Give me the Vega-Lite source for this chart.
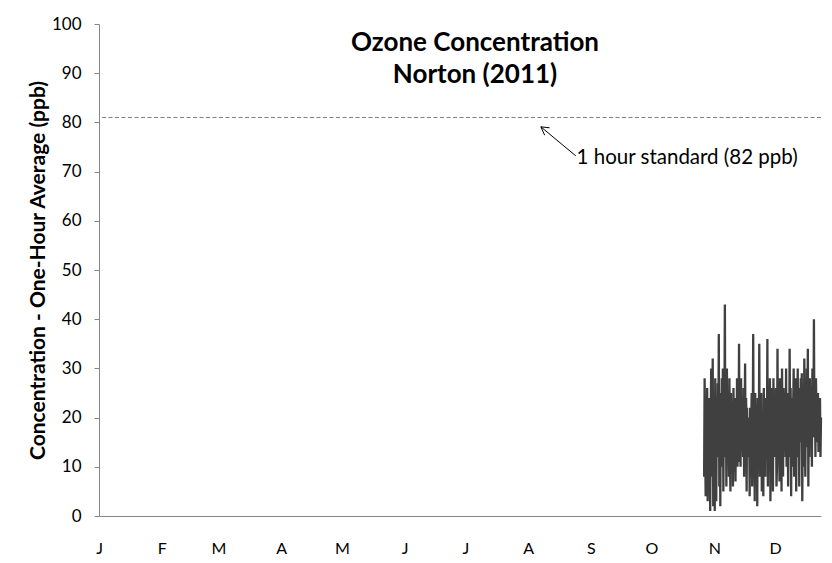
{
  "$schema": "https://vega.github.io/schema/vega-lite/v6.json",
  "width": 722,
  "height": 492,
  "autosize": {"type": "none"},
  "padding": {"left": 99, "top": 24, "right": 11, "bottom": 47},
  "background": "white",
  "config": {
    "view": {"stroke": null},
    "font": "Lato",
    "title": {"font": "Lato", "fontSize": 26, "fontWeight": "bold", "color": "#000000"}
  },
  "title": {
    "text": ["Ozone Concentration", "Norton (2011)"],
    "anchor": "middle",
    "dx": 15,
    "offset": -99,
    "lineHeight": 32,
    "baseline": "bottom"
  },
  "datasets": {
    "ozone": [
      {"t":"2011-10-27T00:00","v":8},{"t":"2011-10-27T06:00","v":28},{"t":"2011-10-27T12:00","v":15},{"t":"2011-10-27T18:00","v":4},
      {"t":"2011-10-28T00:00","v":22},{"t":"2011-10-28T06:00","v":10},{"t":"2011-10-28T12:00","v":26},{"t":"2011-10-28T18:00","v":3},
      {"t":"2011-10-29T00:00","v":18},{"t":"2011-10-29T06:00","v":5},{"t":"2011-10-29T12:00","v":24},{"t":"2011-10-29T18:00","v":12},
      {"t":"2011-10-30T00:00","v":1},{"t":"2011-10-30T06:00","v":20},{"t":"2011-10-30T12:00","v":30},{"t":"2011-10-30T18:00","v":8},
      {"t":"2011-10-31T00:00","v":14},{"t":"2011-10-31T06:00","v":32},{"t":"2011-10-31T12:00","v":2},{"t":"2011-10-31T18:00","v":18},
      {"t":"2011-11-01T00:00","v":25},{"t":"2011-11-01T06:00","v":1},{"t":"2011-11-01T12:00","v":28},{"t":"2011-11-01T18:00","v":10},
      {"t":"2011-11-02T00:00","v":3},{"t":"2011-11-02T06:00","v":22},{"t":"2011-11-02T12:00","v":12},{"t":"2011-11-02T18:00","v":27},
      {"t":"2011-11-03T00:00","v":15},{"t":"2011-11-03T06:00","v":37},{"t":"2011-11-03T12:00","v":6},{"t":"2011-11-03T18:00","v":20},
      {"t":"2011-11-04T00:00","v":2},{"t":"2011-11-04T06:00","v":25},{"t":"2011-11-04T12:00","v":14},{"t":"2011-11-04T18:00","v":28},
      {"t":"2011-11-05T00:00","v":10},{"t":"2011-11-05T06:00","v":30},{"t":"2011-11-05T12:00","v":5},{"t":"2011-11-05T18:00","v":22},
      {"t":"2011-11-06T00:00","v":18},{"t":"2011-11-06T06:00","v":43},{"t":"2011-11-06T12:00","v":12},{"t":"2011-11-06T18:00","v":26},
      {"t":"2011-11-07T00:00","v":6},{"t":"2011-11-07T06:00","v":30},{"t":"2011-11-07T12:00","v":15},{"t":"2011-11-07T18:00","v":24},
      {"t":"2011-11-08T00:00","v":20},{"t":"2011-11-08T06:00","v":8},{"t":"2011-11-08T12:00","v":28},{"t":"2011-11-08T18:00","v":12},
      {"t":"2011-11-09T00:00","v":5},{"t":"2011-11-09T06:00","v":25},{"t":"2011-11-09T12:00","v":18},{"t":"2011-11-09T18:00","v":10},
      {"t":"2011-11-10T00:00","v":22},{"t":"2011-11-10T06:00","v":6},{"t":"2011-11-10T12:00","v":26},{"t":"2011-11-10T18:00","v":14},
      {"t":"2011-11-11T00:00","v":9},{"t":"2011-11-11T06:00","v":24},{"t":"2011-11-11T12:00","v":7},{"t":"2011-11-11T18:00","v":20},
      {"t":"2011-11-12T00:00","v":12},{"t":"2011-11-12T06:00","v":28},{"t":"2011-11-12T12:00","v":10},{"t":"2011-11-12T18:00","v":22},
      {"t":"2011-11-13T00:00","v":16},{"t":"2011-11-13T06:00","v":35},{"t":"2011-11-13T12:00","v":11},{"t":"2011-11-13T18:00","v":25},
      {"t":"2011-11-14T00:00","v":10},{"t":"2011-11-14T06:00","v":28},{"t":"2011-11-14T12:00","v":14},{"t":"2011-11-14T18:00","v":20},
      {"t":"2011-11-15T00:00","v":18},{"t":"2011-11-15T06:00","v":12},{"t":"2011-11-15T12:00","v":26},{"t":"2011-11-15T18:00","v":8},
      {"t":"2011-11-16T00:00","v":20},{"t":"2011-11-16T06:00","v":31},{"t":"2011-11-16T12:00","v":10},{"t":"2011-11-16T18:00","v":24},
      {"t":"2011-11-17T00:00","v":5},{"t":"2011-11-17T06:00","v":22},{"t":"2011-11-17T12:00","v":15},{"t":"2011-11-17T18:00","v":18},
      {"t":"2011-11-18T00:00","v":12},{"t":"2011-11-18T06:00","v":20},{"t":"2011-11-18T12:00","v":4},{"t":"2011-11-18T18:00","v":22},
      {"t":"2011-11-19T00:00","v":8},{"t":"2011-11-19T06:00","v":18},{"t":"2011-11-19T12:00","v":25},{"t":"2011-11-19T18:00","v":6},
      {"t":"2011-11-20T00:00","v":15},{"t":"2011-11-20T06:00","v":37},{"t":"2011-11-20T12:00","v":10},{"t":"2011-11-20T18:00","v":24},
      {"t":"2011-11-21T00:00","v":3},{"t":"2011-11-21T06:00","v":25},{"t":"2011-11-21T12:00","v":18},{"t":"2011-11-21T18:00","v":12},
      {"t":"2011-11-22T00:00","v":20},{"t":"2011-11-22T06:00","v":2},{"t":"2011-11-22T12:00","v":24},{"t":"2011-11-22T18:00","v":15},
      {"t":"2011-11-23T00:00","v":14},{"t":"2011-11-23T06:00","v":35},{"t":"2011-11-23T12:00","v":8},{"t":"2011-11-23T18:00","v":22},
      {"t":"2011-11-24T00:00","v":10},{"t":"2011-11-24T06:00","v":25},{"t":"2011-11-24T12:00","v":5},{"t":"2011-11-24T18:00","v":20},
      {"t":"2011-11-25T00:00","v":18},{"t":"2011-11-25T06:00","v":4},{"t":"2011-11-25T12:00","v":26},{"t":"2011-11-25T18:00","v":12},
      {"t":"2011-11-26T00:00","v":22},{"t":"2011-11-26T06:00","v":8},{"t":"2011-11-26T12:00","v":24},{"t":"2011-11-26T18:00","v":16},
      {"t":"2011-11-27T00:00","v":12},{"t":"2011-11-27T06:00","v":36},{"t":"2011-11-27T12:00","v":6},{"t":"2011-11-27T18:00","v":25},
      {"t":"2011-11-28T00:00","v":20},{"t":"2011-11-28T06:00","v":10},{"t":"2011-11-28T12:00","v":28},{"t":"2011-11-28T18:00","v":3},
      {"t":"2011-11-29T00:00","v":15},{"t":"2011-11-29T06:00","v":26},{"t":"2011-11-29T12:00","v":8},{"t":"2011-11-29T18:00","v":22},
      {"t":"2011-11-30T00:00","v":5},{"t":"2011-11-30T06:00","v":28},{"t":"2011-11-30T12:00","v":18},{"t":"2011-11-30T18:00","v":12},
      {"t":"2011-12-01T00:00","v":20},{"t":"2011-12-01T06:00","v":14},{"t":"2011-12-01T12:00","v":26},{"t":"2011-12-01T18:00","v":6},
      {"t":"2011-12-02T00:00","v":10},{"t":"2011-12-02T06:00","v":34},{"t":"2011-12-02T12:00","v":15},{"t":"2011-12-02T18:00","v":24},
      {"t":"2011-12-03T00:00","v":18},{"t":"2011-12-03T06:00","v":7},{"t":"2011-12-03T12:00","v":28},{"t":"2011-12-03T18:00","v":12},
      {"t":"2011-12-04T00:00","v":22},{"t":"2011-12-04T06:00","v":5},{"t":"2011-12-04T12:00","v":30},{"t":"2011-12-04T18:00","v":15},
      {"t":"2011-12-05T00:00","v":8},{"t":"2011-12-05T06:00","v":26},{"t":"2011-12-05T12:00","v":18},{"t":"2011-12-05T18:00","v":20},
      {"t":"2011-12-06T00:00","v":24},{"t":"2011-12-06T06:00","v":12},{"t":"2011-12-06T12:00","v":30},{"t":"2011-12-06T18:00","v":10},
      {"t":"2011-12-07T00:00","v":16},{"t":"2011-12-07T06:00","v":25},{"t":"2011-12-07T12:00","v":6},{"t":"2011-12-07T18:00","v":22},
      {"t":"2011-12-08T00:00","v":12},{"t":"2011-12-08T06:00","v":34},{"t":"2011-12-08T12:00","v":18},{"t":"2011-12-08T18:00","v":26},
      {"t":"2011-12-09T00:00","v":4},{"t":"2011-12-09T06:00","v":24},{"t":"2011-12-09T12:00","v":20},{"t":"2011-12-09T18:00","v":10},
      {"t":"2011-12-10T00:00","v":22},{"t":"2011-12-10T06:00","v":30},{"t":"2011-12-10T12:00","v":8},{"t":"2011-12-10T18:00","v":18},
      {"t":"2011-12-11T00:00","v":14},{"t":"2011-12-11T06:00","v":28},{"t":"2011-12-11T12:00","v":5},{"t":"2011-12-11T18:00","v":24},
      {"t":"2011-12-12T00:00","v":20},{"t":"2011-12-12T06:00","v":30},{"t":"2011-12-12T12:00","v":12},{"t":"2011-12-12T18:00","v":26},
      {"t":"2011-12-13T00:00","v":6},{"t":"2011-12-13T06:00","v":22},{"t":"2011-12-13T12:00","v":18},{"t":"2011-12-13T18:00","v":28},
      {"t":"2011-12-14T00:00","v":15},{"t":"2011-12-14T06:00","v":29},{"t":"2011-12-14T12:00","v":3},{"t":"2011-12-14T18:00","v":20},
      {"t":"2011-12-15T00:00","v":24},{"t":"2011-12-15T06:00","v":10},{"t":"2011-12-15T12:00","v":32},{"t":"2011-12-15T18:00","v":18},
      {"t":"2011-12-16T00:00","v":8},{"t":"2011-12-16T06:00","v":26},{"t":"2011-12-16T12:00","v":14},{"t":"2011-12-16T18:00","v":30},
      {"t":"2011-12-17T00:00","v":20},{"t":"2011-12-17T06:00","v":34},{"t":"2011-12-17T12:00","v":6},{"t":"2011-12-17T18:00","v":25},
      {"t":"2011-12-18T00:00","v":12},{"t":"2011-12-18T06:00","v":28},{"t":"2011-12-18T12:00","v":20},{"t":"2011-12-18T18:00","v":15},
      {"t":"2011-12-19T00:00","v":25},{"t":"2011-12-19T06:00","v":10},{"t":"2011-12-19T12:00","v":30},{"t":"2011-12-19T18:00","v":22},
      {"t":"2011-12-20T00:00","v":16},{"t":"2011-12-20T06:00","v":40},{"t":"2011-12-20T12:00","v":18},{"t":"2011-12-20T18:00","v":26},
      {"t":"2011-12-21T00:00","v":12},{"t":"2011-12-21T06:00","v":28},{"t":"2011-12-21T12:00","v":22},{"t":"2011-12-21T18:00","v":15},
      {"t":"2011-12-22T00:00","v":20},{"t":"2011-12-22T06:00","v":25},{"t":"2011-12-22T12:00","v":13},{"t":"2011-12-22T18:00","v":22},
      {"t":"2011-12-23T00:00","v":18},{"t":"2011-12-23T06:00","v":24},{"t":"2011-12-23T12:00","v":12},{"t":"2011-12-23T18:00","v":20}
    ],
    "arrow": [
      {"part":"shaft","t":"2011-08-07T08:00","v":79.1,"t2":"2011-08-24T14:00","v2":73.2},
      {"part":"head1","t":"2011-08-07T08:00","v":79.1,"t2":"2011-08-09T05:00","v2":77.4},
      {"part":"head2","t":"2011-08-07T08:00","v":79.1,"t2":"2011-08-11T16:00","v2":78.9}
    ]
  },
  "layer": [
    {
      "data": {"values": [{"standard": 81}]},
      "mark": {"type": "rule", "color": "#7f7f7f", "strokeWidth": 1, "strokeDash": [4, 2.5]},
      "encoding": {"y": {"field": "standard", "type": "quantitative"}}
    },
    {
      "data": {"name": "ozone"},
      "mark": {"type": "line", "color": "#404040", "strokeWidth": 2.3, "interpolate": "linear"},
      "encoding": {
        "x": {
          "field": "t",
          "type": "temporal",
          "scale": {"domain": [{"year": 2011, "month": 1, "date": 1}, {"year": 2011, "month": 12, "date": 23, "hours": 18}]},
          "axis": {
            "title": null,
            "values": [
              {"year": 2011, "month": 1, "date": 1}, {"year": 2011, "month": 2, "date": 1}, {"year": 2011, "month": 3, "date": 1},
              {"year": 2011, "month": 4, "date": 1}, {"year": 2011, "month": 5, "date": 1}, {"year": 2011, "month": 6, "date": 1},
              {"year": 2011, "month": 7, "date": 1}, {"year": 2011, "month": 8, "date": 1}, {"year": 2011, "month": 9, "date": 1},
              {"year": 2011, "month": 10, "date": 1}, {"year": 2011, "month": 11, "date": 1}, {"year": 2011, "month": 12, "date": 1}
            ],
            "labelExpr": "slice(timeFormat(datum.value, '%B'), 0, 1)",
            "labelFlush": false,
            "labelOverlap": false,
            "labelFont": "Lato",
            "labelFontSize": 16,
            "labelColor": "#000000",
            "labelPadding": 24,
            "ticks": false,
            "grid": false,
            "domainColor": "#868686",
            "domainWidth": 1
          }
        },
        "y": {
          "field": "v",
          "type": "quantitative",
          "scale": {"domain": [0, 100], "nice": false},
          "axis": {
            "title": "Concentration - One-Hour Average (ppb)",
            "titleFont": "Lato",
            "titleFontSize": 21,
            "titleFontWeight": "bold",
            "titleColor": "#000000",
            "titlePadding": 3,
            "values": [0,5,10,15,20,25,30,35,40,45,50,55,60,65,70,75,80,85,90,95,100],
            "labelExpr": "datum.value % 10 === 0 ? datum.label : ''",
            "labelFont": "Lato",
            "labelFontSize": 17,
            "labelColor": "#000000",
            "labelPadding": 13,
            "tickSize": 5,
            "tickColor": "#868686",
            "domainColor": "#868686",
            "grid": false
          }
        }
      }
    },
    {
      "data": {"name": "arrow"},
      "mark": {"type": "rule", "color": "#000000", "strokeWidth": 1},
      "encoding": {
        "x": {"field": "t", "type": "temporal"},
        "y": {"field": "v", "type": "quantitative"},
        "x2": {"field": "t2"},
        "y2": {"field": "v2"}
      }
    },
    {
      "data": {"values": [{"t": "2011-08-25T00:00", "v": 72.8, "label": "1 hour standard (82 ppb)"}]},
      "mark": {"type": "text", "align": "left", "baseline": "middle", "font": "Lato", "fontSize": 20.5, "color": "#000000"},
      "encoding": {
        "x": {"field": "t", "type": "temporal"},
        "y": {"field": "v", "type": "quantitative"},
        "text": {"field": "label"}
      }
    }
  ]
}
